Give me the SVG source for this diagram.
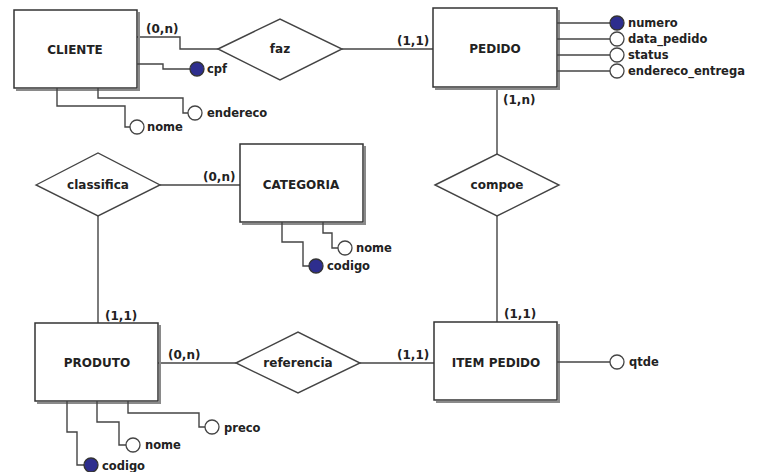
<svg xmlns="http://www.w3.org/2000/svg" width="760" height="472" viewBox="0 0 760 472">
<style>
.ent{fill:#fff;stroke:#333;stroke-width:1.5}
.sh{fill:none;stroke:#8a8a8a;stroke-width:2}
.rel{fill:#fff;stroke:#444;stroke-width:1.4}
.ln{fill:none;stroke:#444;stroke-width:1.4}
.t{font-family:"DejaVu Sans",Verdana,sans-serif;font-weight:bold;font-size:12px;fill:#222}
.c{text-anchor:middle;dominant-baseline:central}
.a{font-size:11.5px}
.ao{fill:#fff;stroke:#444;stroke-width:1.3}
.ak{fill:#2e2e8e;stroke:#333;stroke-width:1.3}
</style>
<rect width="760" height="472" fill="#fff"/>
<g id="connectors">
<path class="ln" d="M137,37 H180 V49 H218"/>
<path class="ln" d="M342,49 H433"/>
<path class="ln" d="M497,88 V154"/>
<path class="ln" d="M497,216 V322"/>
<path class="ln" d="M160,185 H240"/>
<path class="ln" d="M98,216 V323"/>
<path class="ln" d="M158,363 H236"/>
<path class="ln" d="M360,363 H434"/>
<text class="t" x="146" y="33">(0,n)</text>
<text class="t" x="397" y="45">(1,1)</text>
<text class="t" x="503" y="104">(1,n)</text>
<text class="t" x="504" y="318">(1,1)</text>
<text class="t" x="203" y="181">(0,n)</text>
<text class="t" x="105" y="320">(1,1)</text>
<text class="t" x="168" y="359">(0,n)</text>
<text class="t" x="397" y="359">(1,1)</text>
</g>
<g id="cliente">
<path class="sh" d="M139,12 V90 H16"/>
<rect class="ent" x="14" y="10" width="123" height="78"/>
<text class="t c" x="75" y="50">CLIENTE</text>
</g>
<g id="pedido">
<path class="sh" d="M559,10 V89 H435"/>
<rect class="ent" x="433" y="8" width="124" height="79"/>
<text class="t c" x="495" y="49">PEDIDO</text>
</g>
<g id="categoria">
<path class="sh" d="M365,146 V224 H242"/>
<rect class="ent" x="240" y="144" width="123" height="78"/>
<text class="t c" x="301" y="185">CATEGORIA</text>
</g>
<g id="produto">
<path class="sh" d="M160,325 V403 H37"/>
<rect class="ent" x="35" y="323" width="123" height="78"/>
<text class="t c" x="97" y="363">PRODUTO</text>
</g>
<g id="item_pedido">
<path class="sh" d="M559,324 V402 H436"/>
<rect class="ent" x="434" y="322" width="123" height="78"/>
<text class="t c" x="496" y="363">ITEM PEDIDO</text>
</g>
<g id="faz">
<polygon class="rel" points="218,49 280,19 342,49 280,80"/>
<text class="t c" x="280" y="49">faz</text>
</g>
<g id="compoe">
<polygon class="rel" points="435,185 497,154 559,185 497,216"/>
<text class="t c" x="497" y="185">compoe</text>
</g>
<g id="classifica">
<polygon class="rel" points="36,185 98,153 160,185 98,216"/>
<text class="t c" x="98" y="185">classifica</text>
</g>
<g id="referencia">
<polygon class="rel" points="236,363 298,332 360,363 298,393"/>
<text class="t c" x="298" y="363">referencia</text>
</g>
<g id="attr_cliente_cpf">
<path class="ln" d="M137,64 H163 V69 H190"/>
<circle class="ak" cx="197" cy="69" r="7"/>
<text class="t a" x="207" y="73">cpf</text>
</g>
<g id="attr_cliente_endereco">
<path class="ln" d="M98,88 V98 H183 V113 H188"/>
<circle class="ao" cx="195" cy="113" r="7"/>
<text class="t a" x="207" y="117">endereco</text>
</g>
<g id="attr_cliente_nome">
<path class="ln" d="M57,88 V106 H125 V127 H130"/>
<circle class="ao" cx="137" cy="127" r="7"/>
<text class="t a" x="147" y="131">nome</text>
</g>
<g id="attr_pedido_numero">
<path class="ln" d="M557,23 H610"/>
<circle class="ak" cx="617" cy="23" r="7"/>
<text class="t a" x="628" y="27">numero</text>
</g>
<g id="attr_pedido_data">
<path class="ln" d="M557,39 H610"/>
<circle class="ao" cx="617" cy="39" r="7"/>
<text class="t a" x="628" y="43">data_pedido</text>
</g>
<g id="attr_pedido_status">
<path class="ln" d="M557,55 H610"/>
<circle class="ao" cx="617" cy="55" r="7"/>
<text class="t a" x="628" y="59">status</text>
</g>
<g id="attr_pedido_endereco">
<path class="ln" d="M557,71 H610"/>
<circle class="ao" cx="617" cy="71" r="7"/>
<text class="t a" x="628" y="75">endereco_entrega</text>
</g>
<g id="attr_categoria_codigo">
<path class="ln" d="M282,222 V242 H303 V266 H309"/>
<circle class="ak" cx="316" cy="266" r="7"/>
<text class="t a" x="327" y="270">codigo</text>
</g>
<g id="attr_categoria_nome">
<path class="ln" d="M323,222 V233 H332 V248 H338"/>
<circle class="ao" cx="345" cy="248" r="7"/>
<text class="t a" x="356" y="252">nome</text>
</g>
<g id="attr_item_qtde">
<path class="ln" d="M557,362 H610"/>
<circle class="ao" cx="617" cy="362" r="7"/>
<text class="t a" x="629" y="366">qtde</text>
</g>
<g id="attr_produto_codigo">
<path class="ln" d="M67,401 V432 H77 V465 H84"/>
<circle class="ak" cx="91" cy="465" r="7"/>
<text class="t a" x="102" y="470">codigo</text>
</g>
<g id="attr_produto_nome">
<path class="ln" d="M97,401 V422 H119 V445 H126"/>
<circle class="ao" cx="133" cy="445" r="7"/>
<text class="t a" x="145" y="449">nome</text>
</g>
<g id="attr_produto_preco">
<path class="ln" d="M128,401 V413 H199 V427 H205"/>
<circle class="ao" cx="212" cy="427" r="7"/>
<text class="t a" x="224" y="432">preco</text>
</g>
</svg>
